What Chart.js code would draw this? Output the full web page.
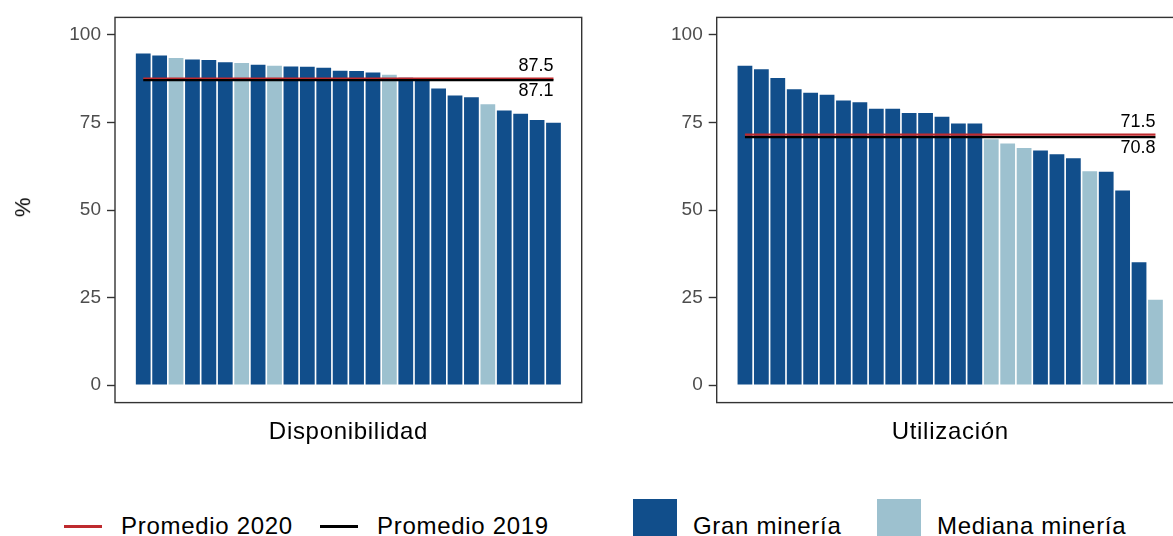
<!DOCTYPE html>
<html>
<head>
<meta charset="utf-8">
<script src="https://cdn.jsdelivr.net/npm/chart.js@4.4.0/dist/chart.umd.min.js"></script>
<style>
    html, body { margin: 0; padding: 0; background: #fff; overflow: hidden; }
    body { width: 1173px; height: 536px; position: relative; font-family: Arial, "Liberation Sans", sans-serif; }
    canvas { position: absolute; top: 0; }
    .txt { position: absolute; white-space: nowrap; color: #000; font-size: 24px; line-height: 24px; letter-spacing: 0.7px; }
    .key-line { position: absolute; height: 2.5px; }
    .key-box { position: absolute; width: 44px; height: 40px; }
</style>
</head>
<body>
<canvas id="dispChart" width="600" height="420" style="left:0px"></canvas>
<canvas id="utilChart" width="600" height="420" style="left:600px"></canvas>
<div class="txt" style="left:13px; top:195px; font-size:22px; transform:rotate(-90deg);">%</div>
<div class="txt" id="titleDisp" style="top:419px;"></div>
<div class="txt" id="titleUtil" style="top:419px;"></div>
<div id="legend"></div>

<script>
// categorias de cada panel
const paneles = ['Disponibilidad', 'Utilización'];

// valores (%) de cada faena, ordenados de mayor a menor
const disponibilidad = [94.7, 94.1, 93.4, 93.0, 92.8, 92.2, 92.0, 91.5, 91.2, 91.0, 90.9, 90.6, 89.8,
    89.7, 89.3, 88.6, 87.8, 87.6, 84.7, 82.7, 82.2, 80.2, 78.4, 77.5, 75.7, 74.9];
const dispTipo = ['G', 'G', 'M', 'G', 'G', 'G', 'M', 'G', 'M', 'G', 'G', 'G', 'G',
    'G', 'G', 'M', 'G', 'G', 'G', 'G', 'G', 'M', 'G', 'G', 'G', 'G'];

const utilizacion = [91.2, 90.2, 87.7, 84.5, 83.5, 82.9, 81.3, 80.8, 78.9, 78.9, 77.7, 77.7, 76.6,
    74.7, 74.7, 70.2, 69.0, 67.7, 67.0, 65.9, 64.8, 61.1, 60.9, 55.6, 35.1, 24.4];
const utilTipo = ['G', 'G', 'G', 'G', 'G', 'G', 'G', 'G', 'G', 'G', 'G', 'G', 'G',
    'G', 'G', 'M', 'M', 'M', 'G', 'G', 'G', 'M', 'G', 'G', 'G', 'M'];

// promedios
const promedio2020 = [87.5, 71.5];
const promedio2019 = [87.1, 70.8];

const yTicks = [0, 25, 50, 75, 100];

const colorTipo = { G: '#114e8b', M: '#9dc1cf' };
const tipoLabels = { G: 'Gran minería', M: 'Mediana minería' };
const rojo = '#be2a2e';
const negro = '#000000';
const fontFamily = 'Arial, "Liberation Sans", sans-serif';

const panelBorder = {
    id: 'panelBorder',
    afterDraw(chart) {
        const a = chart.chartArea;
        const ctx = chart.ctx;
        ctx.save();
        ctx.strokeStyle = '#333333';
        ctx.lineWidth = 1.4;
        ctx.strokeRect(a.left, a.top, a.right - a.left, a.bottom - a.top);
        ctx.restore();
    }
};

// etiquetas de los promedios al final de las lineas
const promLabels = {
    id: 'promLabels',
    afterDatasetsDraw(chart, args, opts) {
        const ctx = chart.ctx;
        const x = chart.scales.x.getPixelForValue(opts.xEnd);
        const yHi = chart.scales.y.getPixelForValue(opts.hi);
        const yLo = chart.scales.y.getPixelForValue(opts.lo);
        ctx.save();
        ctx.fillStyle = '#000';
        ctx.font = '18px ' + fontFamily;
        ctx.textAlign = 'right';
        ctx.textBaseline = 'alphabetic';
        ctx.fillText(opts.hi.toFixed(1), x, yHi - 7.5);
        ctx.textBaseline = 'top';
        ctx.fillText(opts.lo.toFixed(1), x, yLo + 2);
        ctx.restore();
    }
};

function makePanel(canvasId, values, tipos, p2020, p2019, axisWidth, padRight) {
    const n = values.length;
    const ctx = document.getElementById(canvasId);

    return new Chart(ctx, {
        type: 'bar',
        data: {
            datasets: [
                {
                    type: 'line',
                    label: 'Promedio 2019',
                    data: [{ x: 1, y: p2019 }, { x: n, y: p2019 }],
                    borderColor: negro,
                    borderWidth: 2.2,
                    pointRadius: 0,
                    order: 1
                },
                {
                    type: 'line',
                    label: 'Promedio 2020',
                    data: [{ x: 1, y: p2020 }, { x: n, y: p2020 }],
                    borderColor: rojo,
                    borderWidth: 2.2,
                    pointRadius: 0,
                    order: 2
                },
                {
                    type: 'bar',
                    data: values.map((v, i) => ({ x: i + 1, y: v })),
                    backgroundColor: tipos.map(t => colorTipo[t]),
                    borderWidth: 0,
                    barPercentage: 0.9,
                    categoryPercentage: 1,
                    order: 3
                }
            ]
        },
        options: {
            responsive: false,
            animation: false,
            layout: {
                padding: { left: 0, top: 15, right: padRight, bottom: 17 }
            },
            plugins: {
                legend: { display: false },
                tooltip: { enabled: false },
                promLabels: { xEnd: n, hi: p2020, lo: p2019 }
            },
            scales: {
                x: {
                    type: 'linear',
                    offset: false,
                    min: 1 - 1.72,
                    max: n + 1.72,
                    display: false
                },
                y: {
                    min: -5,
                    max: 105,
                    afterBuildTicks: scale => {
                        scale.ticks = yTicks.map(v => ({ value: v }));
                    },
                    afterFit: scale => {
                        scale.width = axisWidth;
                    },
                    grid: {
                        drawOnChartArea: false,
                        drawTicks: true,
                        tickLength: 8,
                        tickColor: '#333333',
                        tickWidth: 1.4
                    },
                    border: { display: false },
                    ticks: {
                        color: '#4d4d4d',
                        padding: 6,
                        font: { size: 19, family: fontFamily }
                    }
                }
            }
        },
        plugins: [panelBorder, promLabels]
    });
}

const chartDisp = makePanel('dispChart', disponibilidad, dispTipo, promedio2020[0], promedio2019[0], 115, 18.3);
const chartUtil = makePanel('utilChart', utilizacion, utilTipo, promedio2020[1], promedio2019[1], 116.7, 16.3);

// titulos bajo cada panel, centrados en el area del grafico
function placeTitle(id, text, chart, offset) {
    const el = document.getElementById(id);
    el.textContent = text;
    const a = chart.chartArea;
    const cx = offset + (a.left + a.right) / 2;
    el.style.left = (cx - el.offsetWidth / 2) + 'px';
}
placeTitle('titleDisp', paneles[0], chartDisp, 0);
placeTitle('titleUtil', paneles[1], chartUtil, 600);

// leyenda
const legend = document.getElementById('legend');
const lineKeys = [
    { label: 'Promedio 2020', color: rojo, x: 64 },
    { label: 'Promedio 2019', color: negro, x: 320 }
];
lineKeys.forEach(k => {
    const line = document.createElement('div');
    line.className = 'key-line';
    line.style.cssText = `left:${k.x}px; top:525px; width:38px; background:${k.color};`;
    legend.appendChild(line);
    const t = document.createElement('div');
    t.className = 'txt';
    t.style.cssText = `left:${k.x + 57}px; top:514px;`;
    t.textContent = k.label;
    legend.appendChild(t);
});
const boxKeys = [
    { tipo: 'G', x: 633 },
    { tipo: 'M', x: 877 }
];
boxKeys.forEach(k => {
    const box = document.createElement('div');
    box.className = 'key-box';
    box.style.cssText = `left:${k.x}px; top:499px; background:${colorTipo[k.tipo]};`;
    legend.appendChild(box);
    const t = document.createElement('div');
    t.className = 'txt';
    t.style.cssText = `left:${k.x + 60}px; top:514px;`;
    t.textContent = tipoLabels[k.tipo];
    legend.appendChild(t);
});
</script>
</body>
</html>
